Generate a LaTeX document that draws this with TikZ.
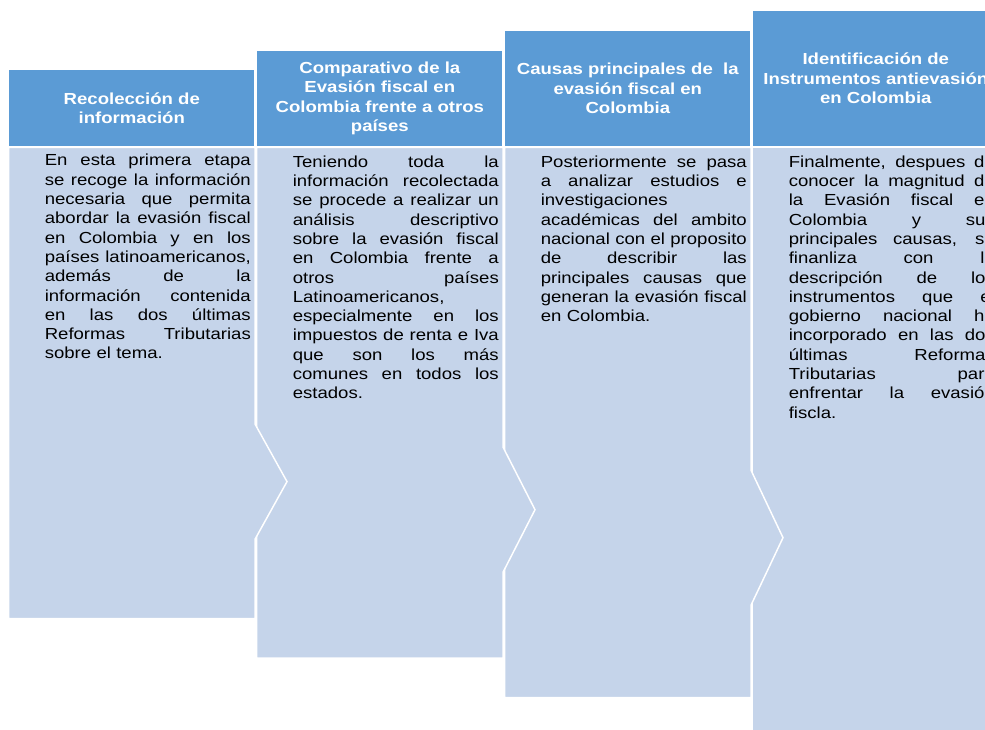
\documentclass[tikz,border=0pt]{standalone}
\usepackage{fontspec}
\setmainfont{Liberation Sans}[FakeStretch=1.16]
\definecolor{headblue}{HTML}{5B9BD5}
\definecolor{bodyblue}{HTML}{C5D4EA}
% one justified line, and one line left as it is
\newcommand\jl[1]{\hbox to\hsize{\spaceskip=\fontdimen2\font plus 1fil minus .3\fontdimen2\font\relax #1}}
\newcommand\lastl[1]{\hbox{#1}}
\tikzset{
  head/.style={fill=headblue,draw=white,line width=1.5pt},
  body/.style={fill=bodyblue,draw=white,line width=1.5pt},
  htext/.style={text=white,font=\fontsize{16}{19.3}\selectfont\bfseries,align=center,inner sep=0pt},
  btext/.style={anchor=base west,inner sep=0pt,text width=206pt,font=\fontsize{16}{19.3}\selectfont}
}
\begin{document}
\begin{tikzpicture}[x=1pt,y=-1pt]
\useasboundingbox (0,0) rectangle (985,730);
\clip (0,0) rectangle (985,730);

% bodies, right one first
\draw[body] (752.5,147.5) -- (999,147.5) -- (999,740) -- (752.5,740) -- cycle;
\draw[body] (504.5,147.5) -- (751,147.5) -- (751,470.2) -- (783,537.7) -- (751,605.2) -- (751,697.5) -- (504.5,697.5) -- cycle;
\draw[body] (256.5,147.5) -- (503,147.5) -- (503,447.1) -- (535,509.7) -- (503,572.3) -- (503,658) -- (256.5,658) -- cycle;
\draw[body] (8.5,147.5) -- (255,147.5) -- (255,424) -- (287,481.6) -- (255,539.3) -- (255,618.5) -- (8.5,618.5) -- cycle;

% headers
\draw[head] (8.5,69.5) rectangle (255,146.8);
\draw[head] (256.5,50) rectangle (503,146.8);
\draw[head] (504.5,30.5) rectangle (751,146.8);
\draw[head] (752.5,10.5) rectangle (999,146.8);

\node[htext] (h1) at (131.8,108) {Recolección de\\información};
\node[htext] (h2) at (379.8,98.4) {Comparativo de la\\Evasión fiscal en\\Colombia frente a otros\\países};
\node[htext] (h3) at (627.8,88.5) {Causas principales de\ \ la\\evasión fiscal en\\Colombia};
\node[htext] (h4) at (875.8,78.5) {Identificación de\\Instrumentos antievasión\\en Colombia};

\node[btext] (t1) at (44.6,166) {%
\jl{En esta primera etapa}
\jl{se recoge la información}
\jl{necesaria que permita}
\jl{abordar la evasión fiscal}
\jl{en Colombia y en los}
\jl{países latinoamericanos,}
\jl{además de la}
\jl{información contenida}
\jl{en las dos últimas}
\jl{Reformas Tributarias}
\lastl{sobre el tema.}};

\node[btext] (t2) at (292.6,167.3) {%
\jl{Teniendo toda la}
\jl{información recolectada}
\jl{se procede a realizar un}
\jl{análisis descriptivo}
\jl{sobre la evasión fiscal}
\jl{en Colombia frente a}
\jl{otros países}
\lastl{Latinoamericanos,}
\jl{especialmente en los}
\jl{impuestos de renta e Iva}
\jl{que son los más}
\jl{comunes en todos los}
\lastl{estados.}};

\node[btext] (t3) at (540.6,167.3) {%
\jl{Posteriormente se pasa}
\jl{a analizar estudios e}
\lastl{investigaciones}
\jl{académicas del ambito}
\jl{nacional con el proposito}
\jl{de describir las}
\jl{principales causas que}
\jl{generan la evasión fiscal}
\lastl{en Colombia.}};

\node[btext] (t4) at (788.6,167.3) {%
\jl{Finalmente, despues de}
\jl{conocer la magnitud de}
\jl{la Evasión fiscal en}
\jl{Colombia y sus}
\jl{principales causas, se}
\jl{finanliza con la}
\jl{descripción de los}
\jl{instrumentos que el}
\jl{gobierno nacional ha}
\jl{incorporado en las dos}
\jl{últimas Reformas}
\jl{Tributarias para}
\jl{enfrentar la evasión}
\lastl{fiscla.}};
\end{tikzpicture}
\end{document}
